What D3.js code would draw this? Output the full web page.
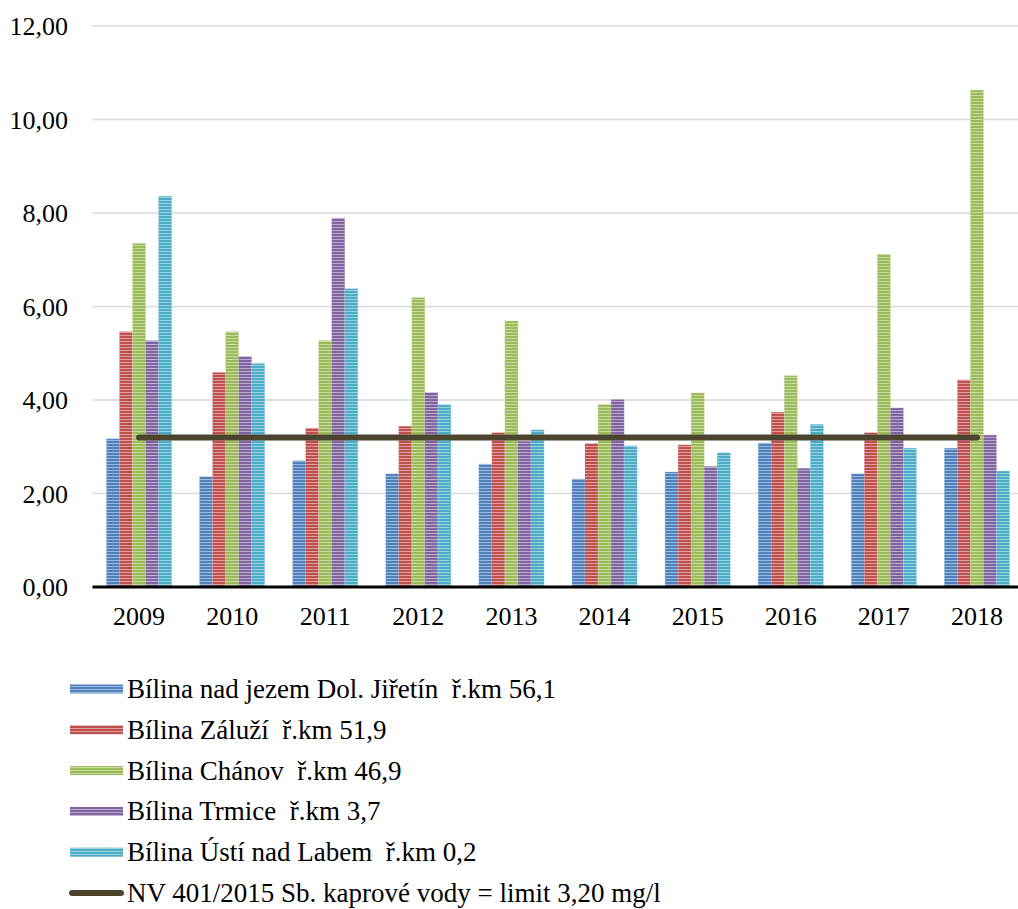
<!DOCTYPE html>
<html>
<head>
<meta charset="utf-8">
<script src="https://cdn.jsdelivr.net/npm/d3@7"></script>
<style>
  html, body { margin: 0; padding: 0; background: #fff; }
  svg text { font-family: "Liberation Serif", "Times New Roman", Tinos, "DejaVu Serif", serif; white-space: pre; }
</style>
</head>
<body>
<svg id="chart" width="1018" height="909"></svg>
<script>
const years = ["2009","2010","2011","2012","2013","2014","2015","2016","2017","2018"];
const seriesNames = [
  "Bílina nad jezem Dol. Jiřetín  ř.km 56,1",
  "Bílina Záluží  ř.km 51,9",
  "Bílina Chánov  ř.km 46,9",
  "Bílina Trmice  ř.km 3,7",
  "Bílina Ústí nad Labem  ř.km 0,2"
];
const jiretin = [3.17, 2.36, 2.70, 2.42, 2.63, 2.31, 2.46, 3.08, 2.42, 2.97];
const zaluzi  = [5.46, 4.59, 3.40, 3.44, 3.30, 3.07, 3.04, 3.74, 3.30, 4.43];
const chanov  = [7.35, 5.46, 5.27, 6.19, 5.69, 3.91, 4.15, 4.52, 7.12, 10.63];
const trmice  = [5.27, 4.93, 7.89, 4.16, 3.12, 4.01, 2.58, 2.54, 3.83, 3.25];
const usti    = [8.36, 4.78, 6.38, 3.90, 3.36, 3.02, 2.87, 3.48, 2.97, 2.48];
const limitName = "NV 401/2015 Sb. kaprové vody = limit 3,20 mg/l";
const limitValue = 3.20;
const yTicks = [0, 2, 4, 6, 8, 10, 12];

const seriesValues = [jiretin, zaluzi, chanov, trmice, usti];
const colors = ["#4f81bd", "#c0504d", "#9bbb59", "#8064a2", "#4bacc6"];
const lightColors = colors.map(c => d3.interpolateRgb(c, "#ffffff")(0.45));
const FS = 26, LFS = 27;

const svg = d3.select("#chart");
const defs = svg.append("defs");
colors.forEach((c, i) => {
  const p = defs.append("pattern")
    .attr("id", "pat" + i)
    .attr("patternUnits", "userSpaceOnUse")
    .attr("width", 6).attr("height", 3);
  p.append("rect").attr("width", 6).attr("height", 3).attr("fill", c);
  p.append("rect").attr("y", 2).attr("width", 6).attr("height", 1).attr("fill", lightColors[i]);
});

const plotLeft = 92.5, plotRight = 1023.5, plotTop = 26, plotBottom = 587;
const x = d3.scaleBand().domain(years).range([plotLeft, plotRight]).paddingInner(0.3).paddingOuter(0.15);
const x1 = d3.scaleBand().domain(d3.range(seriesNames.length)).range([0, x.bandwidth()]);
const y = d3.scaleLinear().domain([0, 12]).range([plotBottom, plotTop]);

// gridlines
svg.append("g").selectAll("line").data(yTicks.filter(t => t > 0)).join("line")
  .attr("x1", plotLeft).attr("x2", plotRight)
  .attr("y1", d => y(d)).attr("y2", d => y(d))
  .attr("stroke", "#d9d9d9").attr("stroke-width", 1.5);

// y axis labels
const yAxis = d3.axisLeft(y).tickValues(yTicks).tickSize(0).tickPadding(0)
  .tickFormat(d => d3.format(".2f")(d).replace(".", ","));
const yg = svg.append("g").attr("transform", `translate(68,0)`).call(yAxis);
yg.attr("font-family", null);
yg.select(".domain").remove();
yg.selectAll("text").attr("font-size", FS).attr("fill", "#000").attr("dy", "0.33em");

// bars
const groups = svg.append("g").selectAll("g").data(years).join("g")
  .attr("transform", d => `translate(${x(d)},0)`);
groups.selectAll("rect").data((d, i) => seriesValues.map((s, k) => ({k, v: s[i]}))).join("rect")
  .attr("x", d => x1(d.k))
  .attr("width", x1.bandwidth())
  .attr("y", d => y(d.v))
  .attr("height", d => y(0) - y(d.v))
  .attr("fill", d => `url(#pat${d.k})`)
  .attr("stroke", d => lightColors[d.k]).attr("stroke-width", 0.6).attr("stroke-opacity", 0.6);

// baseline axis
const xAxis = d3.axisBottom(x).tickSize(0).tickPadding(0);
const xg = svg.append("g").attr("transform", `translate(0,${plotBottom})`).call(xAxis);
xg.attr("font-family", null);
xg.select(".domain").remove();
xg.selectAll("text").attr("font-size", FS).attr("fill", "#000").attr("y", 0).attr("dy", "1.48em");
svg.append("line").attr("x1", plotLeft).attr("x2", plotRight)
  .attr("y1", plotBottom).attr("y2", plotBottom)
  .attr("stroke", "#000").attr("stroke-width", 3);

// limit line
const limitData = years.map(yr => ({yr, v: limitValue}));
const line = d3.line().x(d => x(d.yr) + x.bandwidth() / 2).y(d => y(d.v));
svg.append("path").datum(limitData).attr("d", line)
  .attr("fill", "none").attr("stroke", "#4b4530").attr("stroke-width", 6)
  .attr("stroke-linecap", "round");

// legend
const legendTop = 689, legendStep = 40.8;
const lg = svg.append("g");
seriesNames.forEach((name, i) => {
  const cy = legendTop + i * legendStep;
  lg.append("rect").attr("x", 70).attr("y", cy - 4.5).attr("width", 53).attr("height", 9)
    .attr("fill", `url(#pat${i})`);
  lg.append("text").attr("x", 127).attr("y", cy).attr("dy", "0.33em")
    .attr("font-size", LFS).text(name);
});
const ly = legendTop + 5 * legendStep;
lg.append("line").attr("x1", 72).attr("x2", 121).attr("y1", ly).attr("y2", ly)
  .attr("stroke", "#4b4530").attr("stroke-width", 6).attr("stroke-linecap", "round");
lg.append("text").attr("x", 127).attr("y", ly).attr("dy", "0.33em")
  .attr("font-size", LFS).text(limitName);
</script>
</body>
</html>
